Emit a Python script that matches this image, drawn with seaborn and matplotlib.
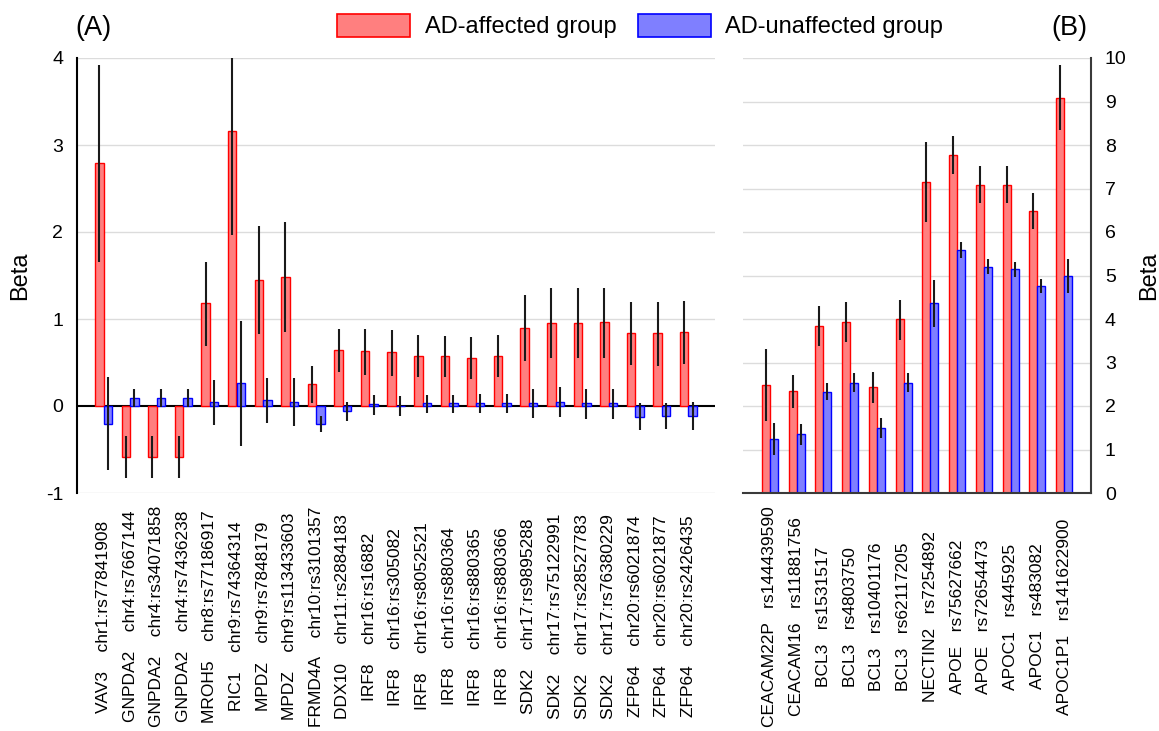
import numpy as np
import pandas as pd
import matplotlib
matplotlib.use("Agg")
import matplotlib.pyplot as plt
from matplotlib.patches import Patch
import seaborn as sns

plt.rcParams['font.family'] = ['Liberation Sans', 'DejaVu Sans']
plt.rcParams['axes.unicode_minus'] = False

# ---------------- data ----------------
groups = ["AD-affected group", "AD-unaffected group"]

left_labels = [
    "VAV3    chr1:rs77841908", "GNPDA2    chr4:rs7667144", "GNPDA2    chr4:rs34071858",
    "GNPDA2    chr4:rs7436238", "MROH5    chr8:rs77186917", "RIC1    chr9:rs74364314",
    "MPDZ    chr9:rs7848179", "MPDZ    chr9:rs113433603", "FRMD4A    chr10:rs3101357",
    "DDX10    chr11:rs2884183", "IRF8    chr16:rs16882", "IRF8    chr16:rs305082",
    "IRF8    chr16:rs8052521", "IRF8    chr16:rs880364", "IRF8    chr16:rs880365",
    "IRF8    chr16:rs880366", "SDK2    chr17:rs9895288", "SDK2    chr17:rs75122991",
    "SDK2    chr17:rs28527783", "SDK2    chr17:rs76380229", "ZFP64    chr20:rs6021874",
    "ZFP64    chr20:rs6021877", "ZFP64    chr20:rs2426435",
]
left_ad = [2.79, -0.59, -0.59, -0.59, 1.18, 3.16, 1.45, 1.48, 0.25, 0.64, 0.63, 0.62,
           0.58, 0.575, 0.556, 0.58, 0.90, 0.958, 0.958, 0.962, 0.835, 0.835, 0.847]
left_ad_lo = [1.65, -0.83, -0.83, -0.83, 0.69, 1.96, 0.83, 0.85, 0.03, 0.39, 0.36, 0.35,
              0.337, 0.337, 0.31, 0.337, 0.517, 0.548, 0.548, 0.556, 0.47, 0.46, 0.48]
left_ad_hi = [3.92, -0.34, -0.34, -0.34, 1.66, 4.35, 2.07, 2.12, 0.46, 0.89, 0.89, 0.874,
              0.816, 0.805, 0.79, 0.816, 1.276, 1.352, 1.352, 1.36, 1.19, 1.19, 1.207]
left_un = [-0.21, 0.088, 0.088, 0.088, 0.042, 0.26, 0.069, 0.05, -0.21, -0.06, 0.02, 0.005,
           0.03, 0.03, 0.03, 0.03, 0.03, 0.046, 0.03, 0.03, -0.123, -0.11, -0.115]
left_un_lo = [-0.74, -0.015, -0.015, -0.015, -0.22, -0.46, -0.2, -0.23, -0.30, -0.17, -0.10, -0.11,
              -0.084, -0.077, -0.077, -0.077, -0.134, -0.13, -0.15, -0.15, -0.28, -0.27, -0.276]
left_un_hi = [0.33, 0.195, 0.195, 0.195, 0.30, 0.98, 0.325, 0.32, -0.11, 0.05, 0.13, 0.12,
              0.126, 0.126, 0.134, 0.134, 0.2, 0.222, 0.2, 0.2, 0.03, 0.04, 0.05]

right_labels = [
    "CEACAM22P   rs144439590", "CEACAM16   rs11881756", "BCL3   rs1531517", "BCL3   rs4803750",
    "BCL3   rs10401176", "BCL3   rs62117205", "NECTIN2   rs7254892", "APOE   rs75627662",
    "APOE   rs72654473", "APOC1   rs445925", "APOC1   rs483082", "APOC1P1   rs141622900",
]
right_ad = [2.48, 2.35, 3.85, 3.92, 2.43, 3.99, 7.16, 7.76, 7.08, 7.08, 6.48, 9.09]
right_ad_lo = [1.66, 1.96, 3.38, 3.46, 2.06, 3.51, 6.24, 7.33, 6.66, 6.66, 6.08, 8.35]
right_ad_hi = [3.30, 2.71, 4.30, 4.38, 2.79, 4.44, 8.08, 8.20, 7.51, 7.51, 6.89, 9.85]
right_un = [1.25, 1.35, 2.33, 2.53, 1.50, 2.54, 4.36, 5.59, 5.20, 5.14, 4.76, 4.99]
right_un_lo = [0.88, 1.11, 2.13, 2.33, 1.27, 2.33, 3.81, 5.40, 5.03, 4.97, 4.59, 4.60]
right_un_hi = [1.62, 1.58, 2.53, 2.75, 1.73, 2.75, 4.90, 5.76, 5.38, 5.32, 4.91, 5.37]

left_yticks = [-1, 0, 1, 2, 3, 4]
right_yticks = list(range(0, 11))

# ---------------- style ----------------
fills = {groups[0]: "#FF7F7F", groups[1]: "#7F7FFF"}
edges = {groups[0]: "#FF0000", groups[1]: "#0000FF"}
grid_c = "#DCDCDC"
fs_xtick = 12.5
fs_ytick = 14
fs_big = 17


def long_frame(labels, a, u):
    return pd.DataFrame({
        "label": list(labels) * 2,
        "beta": list(a) + list(u),
        "group": [groups[0]] * len(labels) + [groups[1]] * len(labels),
    })


def draw_panel(ax, labels, a, alo, ahi, u, ulo, uhi, width):
    df = long_frame(labels, a, u)
    sns.barplot(data=df, x="label", y="beta", hue="group", hue_order=groups,
                palette=fills, saturation=1, width=width, errorbar=None,
                legend=False, ax=ax, zorder=2)
    lows = [alo, ulo]
    highs = [ahi, uhi]
    for gi, cont in enumerate(ax.containers):
        g = groups[gi]
        xs = []
        for p in cont.patches:
            p.set_facecolor(fills[g])
            p.set_edgecolor(edges[g])
            p.set_linewidth(1.0)
            xs.append(p.get_x() + p.get_width() / 2)
        ax.vlines(xs, lows[gi], highs[gi], color="#1a1a1a", lw=1.5, zorder=4)
    n = len(labels)
    ax.set_xlim(-1, n)
    ax.set_xlabel("")
    ax.set_xticks(range(n))
    ax.set_xticklabels(labels, rotation=90, va="center", ha="center",
                       fontsize=fs_xtick)
    ax.tick_params(axis="x", length=0, pad=89)
    ax.set_axisbelow(True)


fig = plt.figure(figsize=(11.59, 7.31), dpi=100)
W, H = 1159, 731
top, bot = 58, 493
axL = fig.add_axes([77 / W, 1 - bot / H, (715 - 77) / W, (bot - top) / H])
axR = fig.add_axes([743 / W, 1 - bot / H, (1091 - 743) / W, (bot - top) / H])

# left panel
draw_panel(axL, left_labels, left_ad, left_ad_lo, left_ad_hi,
           left_un, left_un_lo, left_un_hi, 0.64)
axL.set_ylim(-1, 4)
axL.set_yticks(left_yticks)
axL.set_yticklabels([str(t) for t in left_yticks], fontsize=fs_ytick)
axL.tick_params(axis="y", length=0, pad=10)
for t in left_yticks:
    if t != 0:
        axL.axhline(t, color=grid_c, lw=1, zorder=0)
axL.axhline(0, color="black", lw=1.5, zorder=1)
for s in ["top", "right", "bottom"]:
    axL.spines[s].set_visible(False)
axL.spines["left"].set_color("black")
axL.spines["left"].set_linewidth(1.5)
axL.set_ylabel("Beta", fontsize=fs_big)
axL.yaxis.set_label_coords(-0.072, 0.5)

# right panel
draw_panel(axR, right_labels, right_ad, right_ad_lo, right_ad_hi,
           right_un, right_un_lo, right_un_hi, 0.6)
axR.set_ylim(0, 10)
axR.set_yticks(right_yticks)
axR.set_yticklabels([str(t) for t in right_yticks], fontsize=fs_ytick)
axR.yaxis.tick_right()
axR.yaxis.set_label_position("right")
axR.tick_params(axis="y", length=0, pad=10)
for t in right_yticks[1:]:
    axR.axhline(t, color=grid_c, lw=1, zorder=0)
for s in ["top", "left"]:
    axR.spines[s].set_visible(False)
axR.spines["right"].set_color("#3a3a3a")
axR.spines["right"].set_linewidth(1.5)
axR.spines["bottom"].set_color("#3a3a3a")
axR.spines["bottom"].set_linewidth(1.5)
axR.set_ylabel("Beta", fontsize=fs_big, rotation=90)
axR.yaxis.set_label_coords(1.136, 0.5)

# panel labels
fig.text(75 / W, 1 - 28 / H, "(A)", fontsize=19.5, va="center", ha="left")
fig.text(1087 / W, 1 - 28 / H, "(B)", fontsize=19.5, va="center", ha="right")

# legend
handles = [Patch(facecolor=fills[g], edgecolor=edges[g], lw=1.2, label=g) for g in groups]
fig.legend(handles=handles, loc="center", bbox_to_anchor=(640 / W, 1 - 26 / H),
           ncol=2, frameon=False, fontsize=fs_big, handlelength=3.1,
           handleheight=1.15, handletextpad=0.6, columnspacing=0.9)

fig.savefig("out.png", dpi=100)
